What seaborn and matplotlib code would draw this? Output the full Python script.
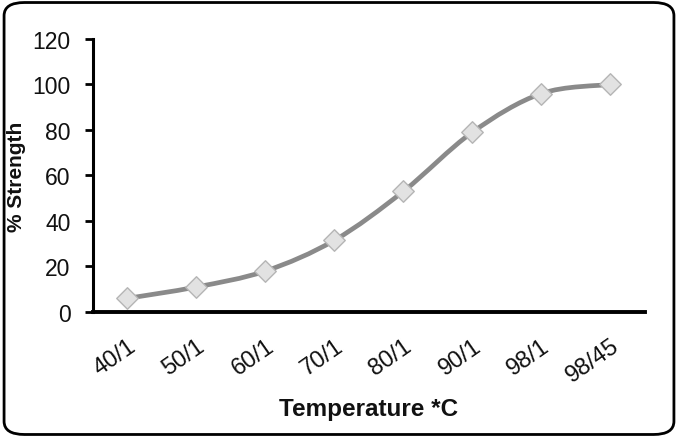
import numpy as np
import pandas as pd
import seaborn as sns
import matplotlib.pyplot as plt
from matplotlib.path import Path
from matplotlib.patches import PathPatch, FancyBboxPatch

# values
temps = ["40/1", "50/1", "60/1", "70/1", "80/1", "90/1", "98/1", "98/45"]
strength = [6, 11, 18, 31.5, 53, 79, 96, 100]

df = pd.DataFrame({"temp": temps, "strength": strength})
df["pos"] = np.arange(len(df))

sns.set_style("white")
plt.rcParams["font.family"] = ["Liberation Sans", "DejaVu Sans"]

fig = plt.figure(figsize=(6.78, 4.39), dpi=100)
ax = fig.add_axes([0.137, 0.287, 0.814, 0.622])

# smoothed line like a spreadsheet chart (Catmull-Rom -> cubic Bezier)
x = df["pos"].to_numpy(dtype=float)
y = df["strength"].to_numpy(dtype=float)
verts = [(x[0], y[0])]
codes = [Path.MOVETO]
t = 1 / 6
for i in range(len(x) - 1):
    p0 = (x[max(i - 1, 0)], y[max(i - 1, 0)])
    p1 = (x[i], y[i])
    p2 = (x[i + 1], y[i + 1])
    p3 = (x[min(i + 2, len(x) - 1)], y[min(i + 2, len(x) - 1)])
    c1 = (p1[0] + (p2[0] - p0[0]) * t, p1[1] + (p2[1] - p0[1]) * t)
    c2 = (p2[0] - (p3[0] - p1[0]) * t, p2[1] - (p3[1] - p1[1]) * t)
    verts += [c1, c2, p2]
    codes += [Path.CURVE4] * 3
ax.add_patch(PathPatch(Path(verts, codes), fill=False, edgecolor="#8a8a8a",
                       lw=3.4, capstyle="round", zorder=2))

sns.scatterplot(data=df, x="pos", y="strength", marker="D", s=120,
                color="#e2e2e2", edgecolor="#b5b5b5", linewidth=1,
                ax=ax, zorder=3)

ax.set_xlim(-0.5, len(temps) - 0.5)
ax.set_ylim(0, 120)
ax.set_yticks(range(0, 121, 20))
ax.set_xticks(df["pos"])
ax.set_xticklabels(temps, rotation=35, ha="right", rotation_mode="anchor",
                   fontsize=17)
ax.tick_params(axis="y", direction="out", length=6, width=2, labelsize=16.5,
               pad=10, left=True, color="black", labelcolor="#111111")
ax.tick_params(axis="x", length=0, pad=16, labelcolor="#111111")

for s in ["top", "right"]:
    ax.spines[s].set_visible(False)
ax.spines["left"].set_linewidth(2.2)
ax.spines["bottom"].set_linewidth(2.8)
ax.spines["left"].set_color("black")
ax.spines["bottom"].set_color("black")

ax.set_xlabel("Temperature *C", fontsize=17.5, fontweight="bold",
              color="#111111")
ax.set_ylabel("% Strength", fontsize=15, fontweight="bold",
              color="#111111")
ax.xaxis.set_label_coords(0.5, -0.31)
ax.yaxis.set_label_coords(-0.138, 0.5)
ax.yaxis.label.set_va("center")

# rounded frame around the chart
frame = FancyBboxPatch((0.006, 0.008), 0.988, 0.984,
                       boxstyle="round,pad=0,rounding_size=0.03",
                       transform=fig.transFigure, fill=False,
                       edgecolor="black", lw=2)
fig.patches.append(frame)

fig.savefig("out.png", dpi=100)
